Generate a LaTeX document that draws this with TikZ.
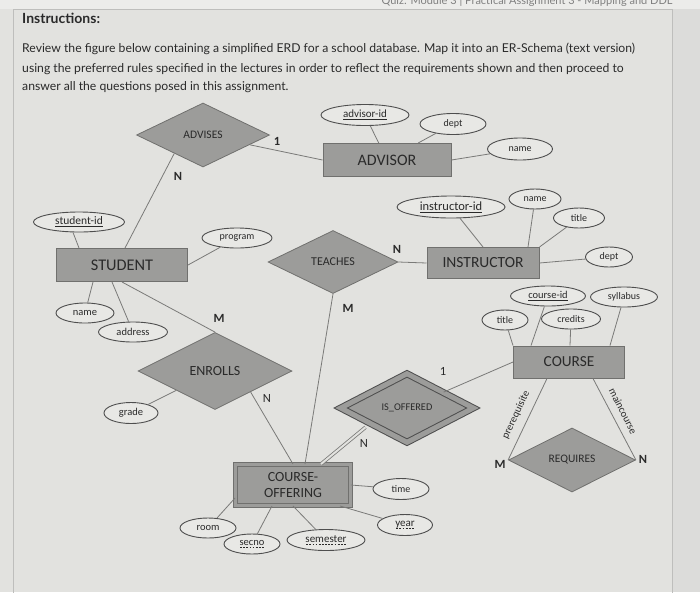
\documentclass[tikz,border=0pt]{standalone}
\usepackage{fontspec}
\setmainfont{Carlito}
\newfontfamily\latofont{Lato}
\usetikzlibrary{shapes.geometric, calc}

\definecolor{pagebg}{RGB}{226,226,223}
\definecolor{topband}{RGB}{236,236,234}
\definecolor{sidebg}{RGB}{220,220,218}
\definecolor{framegray}{RGB}{190,190,188}
\definecolor{boxfill}{RGB}{156,156,154}
\definecolor{boxline}{RGB}{112,112,110}
\definecolor{ovalfill}{RGB}{232,232,229}
\definecolor{ovalline}{RGB}{78,78,78}
\definecolor{linkgray}{RGB}{122,122,120}
\definecolor{inkgray}{RGB}{42,42,42}

% dashed underline for partial keys
\newcommand\dashkey[1]{\setbox0\hbox{#1}\leavevmode\rlap{\lower2pt\hbox to\wd0{\xleaders\hbox to 3pt{\hss\vrule width 1.8pt height 0.6pt\hss}\hfill}}\box0}

\begin{document}
\begin{tikzpicture}[x=1pt, y=-1pt,
		every node/.style={text=inkgray},
		entity/.style={draw=boxline, fill=boxfill, line width=1pt, inner sep=0pt, font=\fontsize{16}{18}\selectfont},
		weakentity/.style={entity, double=boxfill, double distance=3pt, line width=0.9pt, align=center, font=\fontsize{14}{16}\selectfont},
		relation/.style={diamond, draw=boxline, fill=boxfill, line width=0.8pt, inner sep=0pt, font=\fontsize{11.5}{13}\selectfont},
		weakrelation/.style={relation, draw=ovalline, double=boxfill, double distance=5pt, line width=1pt},
		attr/.style={ellipse, draw=ovalline, fill=ovalfill, line width=0.9pt, inner sep=0pt, minimum height=20, font=\fontsize{10}{12}\selectfont},
		card/.style={font=\fontsize{12.5}{14}\selectfont\bfseries},
		cardthin/.style={font=\fontsize{12.5}{14}\selectfont},
		link/.style={draw=linkgray, line width=0.8pt},
		rolename/.style={inner sep=0pt, font=\fontsize{10.5}{12}\selectfont}
	]
		\useasboundingbox (0,0) rectangle (700,592);
		% page behind the diagram
		\fill[pagebg] (0,0) rectangle (700,592);
		\fill[topband] (0,0) rectangle (700,9);
		\fill[sidebg] (672,9) rectangle (700,592);
		\draw[framegray, line width=0.8pt] (13,600) -- (13,9) -- (672,9) -- (672,600);
		\node[anchor=base east, text=gray, font=\latofont\fontsize{11}{13}\selectfont] (hdr) at (676,4) {Quiz: Module 3 | Practical Assignment 3 - Mapping and DDL};
		\node[anchor=base west, inner sep=0pt, font=\latofont\bfseries\fontsize{14}{16}\selectfont] (instr) at (22,23) {Instructions:};
		\node[anchor=base west, inner sep=0pt, font=\latofont\fontsize{12.2}{14}\selectfont] (par1) at (22,52) {Review the figure below containing a simplified ERD for a school database. Map it into an ER-Schema (text version)};
		\node[anchor=base west, inner sep=0pt, font=\latofont\fontsize{12.2}{14}\selectfont] (par2) at (22,72) {using the preferred rules specified in the lectures in order to reflect the requirements shown and then proceed to};
		\node[anchor=base west, inner sep=0pt, font=\latofont\fontsize{12.2}{14}\selectfont] (par3) at (22,90) {answer all the questions posed in this assignment.};

		% entities
		\node[entity, minimum width=128, minimum height=33] (advisor) at (387,160) {ADVISOR};
		\node[entity, minimum width=131, minimum height=33, font=\fontsize{16.3}{18}\selectfont] (student) at (122,265) {STUDENT};
		\node[entity, minimum width=112, minimum height=31, font=\fontsize{15.5}{18}\selectfont] (instructor) at (483,263) {INSTRUCTOR};
		\node[entity, minimum width=111, minimum height=32, font=\fontsize{15.3}{18}\selectfont] (course) at (569,362) {COURSE};
		\node[weakentity, minimum width=115, minimum height=41] (coff) at (293,485) {COURSE-\\OFFERING};

		% relationships
		\node[relation, minimum width=133, minimum height=64] (advises) at (203,135) {ADVISES};
		\node[relation, minimum width=130, minimum height=63, font=\fontsize{12}{14}\selectfont] (teaches) at (333,262) {TEACHES};
		\node[relation, minimum width=154, minimum height=77, font=\fontsize{14}{16}\selectfont] (enrolls) at (215,371) {ENROLLS};
		\node[weakrelation, minimum width=133, minimum height=69, font=\fontsize{10.3}{12}\selectfont] (isoff) at (407,408) {IS\_OFFERED};
		\node[relation, minimum width=127, minimum height=64] (requires) at (572,460) {REQUIRES};

		% attributes
		\node[attr, minimum width=91, font=\fontsize{11.5}{13}\selectfont] (sid) at (79,222) {\underline{student-id}};
		\node[attr, minimum width=70] (sprog) at (237,238) {program};
		\node[attr, minimum width=58, font=\fontsize{10.5}{12}\selectfont] (sname) at (85,313) {name};
		\node[attr, minimum width=69, font=\fontsize{10.5}{12}\selectfont] (saddr) at (133,332) {address};
		\node[attr, minimum width=54, minimum height=21, font=\fontsize{10.5}{12}\selectfont] (grade) at (131,413) {grade};
		\node[attr, minimum width=88, minimum height=21, font=\fontsize{11}{13}\selectfont] (aid) at (365,115) {\underline{advisor-id}};
		\node[attr, minimum width=66, minimum height=21] (adept) at (453,124) {dept};
		\node[attr, minimum width=65, minimum height=22] (aname) at (520,149) {name};
		\node[attr, minimum width=108, minimum height=22, font=\fontsize{12.5}{14}\selectfont] (iid) at (451,207) {\underline{instructor-id}};
		\node[attr, minimum width=52] (iname) at (535,199) {name};
		\node[attr, minimum width=51] (ititle) at (579,218) {title};
		\node[attr, minimum width=47] (idept) at (609,257) {dept};
		\node[attr, minimum width=75, font=\fontsize{10.5}{12}\selectfont] (cid) at (548,296) {\underline{course-id}};
		\node[attr, minimum width=67] (csyl) at (624,297) {syllabus};
		\node[attr, minimum width=46] (ctitle) at (505,320) {title};
		\node[attr, minimum width=59] (ccred) at (571,319) {credits};
		\node[attr, minimum width=56, minimum height=21] (ctime) at (401,489) {time};
		\node[attr, minimum width=55, minimum height=21, font=\fontsize{11}{13}\selectfont] (cyear) at (405,525) {\dashkey{year}};
		\node[attr, minimum width=56, font=\fontsize{10.5}{12}\selectfont] (croom) at (208,528) {room};
		\node[attr, minimum width=56, font=\fontsize{10.5}{12}\selectfont] (csec) at (252,544) {\dashkey{secno}};
		\node[attr, minimum width=78, minimum height=21, font=\fontsize{11}{13}\selectfont] (csem) at (326,540) {\dashkey{semester}};

		% cardinalities and role names
		\node[card] (c1) at (277,141) {1};
		\node[card] (c2) at (178,176) {N};
		\node[card] (c3) at (397,249) {N};
		\node[card] (c4) at (348,308) {M};
		\node[card] (c5) at (219,318) {M};
		\node[cardthin] (c6) at (267,398) {N};
		\node[cardthin] (c7) at (443,371) {1};
		\node[cardthin] (c8) at (364,443) {N};
		\node[card] (c9) at (500,464) {M};
		\node[card] (c10) at (643,459) {N};
		\node[rolename, rotate=64.6] (prereq) at (516,415) {prerequisite};
		\node[rolename, rotate=-62.9] (mainc) at (623,411) {maincourse};

		% connectors
		\draw[link] ([xshift=-6]sid.south) -- ([xshift=-43]student.north); \draw[link] (student.east) -- (sprog);
		\draw[link] ([xshift=-29]student.south) -- (sname); \draw[link] ([xshift=-10]student.south) -- (saddr);
		\draw[link] ([xshift=3]student.north) -- ($(advises.west)!0.57!(advises.south)$);
		\draw[link] (advises) -- (advisor.west);
		\draw[link] (aid) -- (advisor); \draw[link] (adept) -- (advisor); \draw[link] (advisor.east) -- (aname);
		\draw[link] (student.south) -- (enrolls.north); \draw[link] (grade) -- (enrolls);
		\draw[link] ($(enrolls.south)!0.46!(enrolls.east)$) -- (coff.north);
		\draw[link] (iid) -- (instructor.north); \draw[link] (iname) -- ([xshift=45]instructor.north);
		\draw[link] (ititle) -- (instructor.north east); \draw[link] (instructor.east) -- (idept);
		\draw[link] (teaches.east) -- (instructor.west); \draw[link] (teaches.south) -- ([xshift=12]coff.north);
		\draw[link] (ctitle) -- (course.north west); \draw[link] (cid) -- ([xshift=-38]course.north);
		\draw[link] (ccred) -- ([xshift=1]course.north); \draw[link] (csyl) -- ([xshift=41]course.north);
		\draw[link] (isoff) -- (course.west);
		\draw[link, double=pagebg, double distance=2pt] ($(isoff.west)!0.38!(isoff.south)+(0,6)$) -- ([xshift=28]coff.north);
		\draw[link] ([xshift=-22]course.south) -- (requires.west);
		\draw[link] ([xshift=24]course.south) -- (requires.east);
		\draw[link] (coff.east) -- (ctime); \draw[link] ([xshift=-11]coff.south east) -- (cyear);
		\draw[link] ([yshift=-13]coff.west) -- (croom); \draw[link] ([xshift=-21]coff.south) -- (csec);
		\draw[link] (coff.south) -- (csem);
	\end{tikzpicture}
\end{document}
